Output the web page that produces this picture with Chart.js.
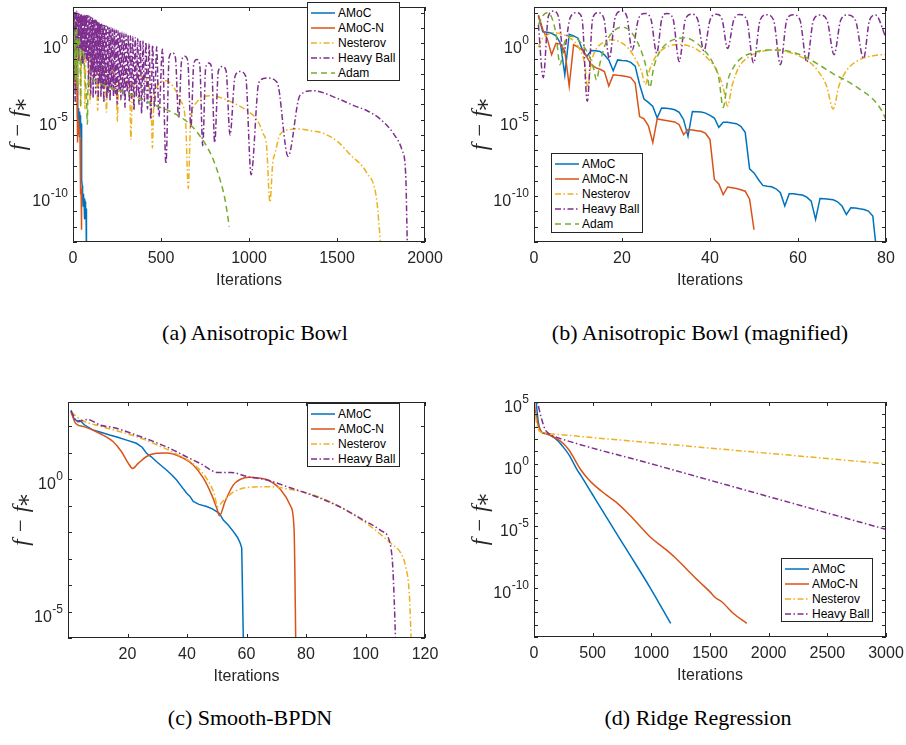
<!DOCTYPE html>
<html>
<head>
<meta charset="utf-8">
<script src="https://cdn.jsdelivr.net/npm/chart.js@4.4.1/dist/chart.umd.min.js"></script>
<style>
  body { margin: 0; background: #fff; }
  #page { position: relative; width: 906px; height: 745px; overflow: hidden; background: #fff; }
  .panel { position: absolute; width: 453px; height: 300px; }
  .cap { position: absolute; font-family: "Liberation Serif", serif; font-size: 22px; line-height: 24px;
         color: #000; transform: translateX(-50%); white-space: nowrap; }
  .legend { position: absolute; box-sizing: border-box; background: #fff; border: 1px solid #262626;
            padding: 2px 4px 0 3px; font-family: "Liberation Sans", Arial, sans-serif; font-size: 12px; color: #000; }
  .legend .row { display: flex; align-items: center; height: 15.2px; white-space: nowrap; }
  .legend svg { margin-right: 3px; flex: none; }
</style>
</head>
<body>
<div id="page">
  <canvas id="chartA" class="panel" width="453" height="300" style="left:0;top:0"></canvas>
  <canvas id="chartB" class="panel" width="453" height="300" style="left:453px;top:0"></canvas>
  <canvas id="chartC" class="panel" width="453" height="300" style="left:0;top:396px"></canvas>
  <canvas id="chartD" class="panel" width="453" height="300" style="left:453px;top:386px"></canvas>
  <div class="cap" style="left:255px;top:321px">(a) Anisotropic Bowl</div>
  <div class="cap" style="left:700px;top:321px">(b) Anisotropic Bowl (magnified)</div>
  <div class="cap" style="left:250px;top:706px">(c) Smooth-BPDN</div>
  <div class="cap" style="left:698px;top:706px">(d) Ridge Regression</div>
</div>
<script>
// values are log10(f - f*)

const methods = ["AMoC", "AMoC-N", "Nesterov", "Heavy Ball", "Adam"];
const colors = ["#0072BD", "#D95319", "#EDB120", "#7E2F8E", "#77AC30"];
const dashes = [[], [], [6, 2.5, 1.5, 2.5], [6, 2.5, 1.5, 2.5], [6, 4]];

// ---- (b) anisotropic bowl, first 80 iterations (also the start of (a)) ----
const amocLog = [1.8, 0.75, 0.72, 0.65, 0.48, 0.0, -2.07, 0.59, 0.48, 0.33,
  -0.43, -0.87, -0.48, -0.5, -0.54, -0.76, -1.09, -1.8, -1.09, -1.13,
  -1.15, -1.25, -1.5, -2.7, -3.65, -3.87, -4.13, -4.89, -4.24, -4.26,
  -4.28, -4.35, -4.52, -5.0, -6.09, -4.46, -4.48, -4.5, -4.57, -4.72,
  -4.89, -5.5, -5.17, -5.17, -5.22, -5.26, -5.43, -5.83, -8.22, -8.48,
  -8.91, -9.3, -9.35, -9.39, -9.52, -9.78, -10.65, -9.85, -9.85, -9.89,
  -9.93, -10.07, -10.33, -11.52, -10.15, -10.17, -10.2, -10.24, -10.37, -10.65,
  -11.2, -10.76, -10.78, -10.83, -10.87, -10.98, -11.3, -14];
const amocNLog = [1.85, 0.9, 0.3, -0.75, 0.0, -0.05, -0.5, -2.8, -0.1, -0.25,
  -0.45, -0.9, -1.4, -1.6, -1.7, -1.85, -2.8, -2.07, -2.1, -2.12,
  -2.18, -2.25, -2.6, -4.8, -4.95, -5.4, -6.5, -4.95, -5.0, -5.05,
  -5.1, -5.15, -5.33, -5.98, -5.65, -5.68, -5.72, -5.76, -5.9, -6.3,
  -8.91, -9.2, -9.9, -9.4, -9.45, -9.5, -9.58, -9.68, -10.2, -12.2];

const nestIterB = [1, 2, 3, 4.5, 6, 7.5, 9, 10.5, 11.5, 12.2, 13, 14, 15.5, 17.5, 19.5, 21.5, 23.2, 24.5, 25.3, 26.2,
  27.5, 29.5, 31.5, 33.5, 35.5, 37.5, 39.5, 41.5, 43, 44, 45, 46.5, 48.5, 51, 54, 57, 60, 62.5, 64.5, 66.5,
  68, 69.3, 71, 73.5, 76.5, 80];
const nestLogB = [-0.25, 0.35, 0.55, 0.7, 0.62, 0.45, 0.15, -0.45, -1.3, -2.9, -1.3, -0.45, 0.0, 0.22, 0.1, -0.35, -1.1, -1.9, -2.7, -1.8,
  -0.95, -0.35, -0.12, -0.08, -0.2, -0.5, -1.0, -1.75, -2.9, -4.1, -2.8, -1.6, -0.95, -0.6, -0.45, -0.52, -0.8, -1.2, -1.8, -2.8,
  -4.3, -2.8, -1.8, -1.15, -0.85, -0.72];

const hbIterB = [1, 2.1, 3.25, 4.4, 5.55, 6.7, 8.2, 9.7, 10.9, 12.1, 13.35, 14.6, 15.85, 17.1, 18.5, 19.9, 21.1, 22.3,
  23.75, 25.2, 26.55, 27.9, 29.05, 30.2, 31.6, 33, 34.4, 35.8, 37.2, 38.6, 40.05, 41.5, 42.75, 44, 45.4, 46.8,
  48.35, 49.9, 51.4, 52.9, 54.45, 56, 57.45, 58.9, 60.45, 62, 63.5, 65, 66.6, 68.2, 69.7, 71.2, 73.05, 74.9,
  76.25, 77.6, 80];
const hbLogB = [1.2, -2.25, 1.75, 2.1, 1.75, -0.6, 1.65, 2.0, 1.65, -3.8, 1.65, 2.0, 1.65, -1.0, 1.75, 2.1, 1.75, -0.45,
  1.6, 1.95, 1.6, -0.65, 1.6, 1.95, 1.6, -1.2, 1.55, 1.9, 1.55, -0.5, 1.55, 1.9, 1.55, -0.35, 1.53, 1.88,
  1.53, -1.3, 1.52, 1.87, 1.52, -1.4, 1.52, 1.87, 1.52, -1.25, 1.5, 1.85, 1.5, -0.75, 1.5, 1.85, 1.5, -1.0,
  1.5, 1.85, 0.35];

const adamIterB = [1, 2, 3, 4, 5, 5.9, 7, 8.3, 9.5, 11, 12.5, 13.5, 14.2, 15, 16.3, 18, 19.8, 21.5, 23, 24.5,
  25.5, 26.3, 27.2, 28.5, 30.5, 32.5, 34.5, 36.5, 38.5, 40.5, 42, 43, 44, 45.5, 47.5, 50, 53, 56, 59, 62,
  65, 68, 71, 74, 77, 79, 80];
const adamLogB = [1.2, 1.8, 2.0, 1.7, 0.6, -1.4, 0.1, 0.45, 0.35, -0.1, -0.8, -1.6, -2.4, -1.3, 0.0, 0.75, 1.05, 0.9, 0.35, -0.6,
  -1.6, -2.9, -1.6, -0.6, 0.05, 0.3, 0.35, 0.1, -0.4, -1.2, -2.3, -4.2, -2.5, -1.5, -0.9, -0.6, -0.45, -0.45, -0.6, -0.95,
  -1.45, -2.0, -2.45, -3.0, -3.65, -4.4, -5.0];

// ---- (a) continuation beyond 80 iterations ----
const nestIterTail = [84, 90, 94, 97, 100, 106, 118, 130, 136, 140, 145, 152, 165, 178, 186, 190, 195, 204, 220, 238,
  248, 252, 257, 268, 290, 312, 324, 329, 335, 350, 390, 430, 445, 451, 458, 475, 494, 530, 570, 608,
  640, 655, 668, 700, 740, 790, 850, 949, 1000, 1044, 1080, 1100, 1119, 1135, 1148, 1176, 1233, 1271, 1340, 1422,
  1500, 1574, 1669, 1725, 1750];
const nestLogTail = [-0.65, -1.4, -2.4, -3.9, -2.4, -1.5, -1.15, -1.6, -2.6, -4.4, -2.6, -1.8, -1.45, -1.9, -3.0, -4.5, -3.0, -2.1, -1.75, -2.3,
  -3.4, -5.1, -3.4, -2.4, -1.95, -2.5, -4.0, -6.3, -4.0, -2.6, -2.15, -2.8, -4.3, -6.85, -4.3, -3.0, -2.55, -2.45, -2.85, -3.7,
  -5.2, -9.5, -5.2, -3.9, -3.5, -3.43, -3.6, -4.13, -4.5, -5.0, -5.9, -6.74, -10.4, -7.8, -7.18, -5.98, -5.65, -5.6, -5.7, -5.9,
  -6.4, -7.28, -8.48, -10.2, -13.5];

// heavy ball: dense oscillation up to ~500, then wider arches
const hbIterTail = [81.5, 84.75, 88, 91.25, 94.5, 97.75, 101, 104.35, 107.7, 111.1, 114.5, 118, 121.5, 125.1, 128.7, 132.35,
  136, 139.75, 143.5, 147.35, 151.2, 155.1, 159, 163, 167, 171.15, 175.3, 179.55, 183.8, 188.15, 192.5, 197,
  201.5, 206.1, 210.7, 215.45, 220.2, 225.1, 230, 235, 240, 245.25, 250.5, 255.85, 261.2, 266.7, 272.2, 277.9,
  283.6, 289.45, 295.3, 301.35, 307.4, 313.7, 320, 326.5, 333, 339.75, 346.5, 353.5, 360.5, 367.75, 375, 382.5,
  390, 397.85, 405.7, 414.35, 423, 432.5, 442, 452.5, 463, 475.5, 488, 508,
  528, 546, 564, 582, 600, 617, 635, 652, 670, 686, 703, 720,
  737, 754, 771, 788, 805, 826, 848, 870, 892, 921, 950, 981, 1012, 1056, 1100, 1160, 1222, 1290, 1365, 1500,
  1600, 1669, 1750, 1820, 1870, 1890, 1900];
const hbLogTail = [-1.2, 1.82, -2.9, 1.77, -0.9, 1.72, -3.4, 1.68, -1.8, 1.63, -3.6, 1.58, -2.3, 1.53, -3.3, 1.48,
  -2.0, 1.42, -3.7, 1.37, -2.6, 1.31, -3.5, 1.26, -3.0, 1.2, -3.9, 1.16, -2.8, 1.12, -3.6, 1.08,
  -3.2, 1.04, -3.8, 1.0, -3.0, 0.95, -3.5, 0.91, -3.3, 0.86, -4.0, 0.81, -3.1, 0.76, -3.7, 0.71,
  -3.4, 0.66, -4.2, 0.61, -3.2, 0.55, -3.8, 0.49, -3.6, 0.43, -4.4, 0.37, -3.5, 0.3, -4.0, 0.23,
  -4.6, 0.15, -3.8, 0.07, -4.3, -0.02, -5.0, -0.12, -4.2, -0.23, -4.8, -0.39,
  -7.9, -0.95, -0.63, -0.95, -4.9, -1.15, -0.85, -1.15, -5.5, -1.37, -1.07, -1.37,
  -6.7, -1.6, -1.3, -1.6, -6.5, -1.82, -1.52, -1.82, -6.0, -2.15, -1.85, -2.15, -8.6, -2.57, -2.27, -2.57, -7.4, -3.4, -3.1, -3.6,
  -4.1, -4.4, -5.0, -5.9, -7.0, -8.5, -13.5];

const adamIterTail = [82, 84, 88, 95, 110, 150, 200, 300, 400, 456, 550, 600, 660, 700, 760, 800, 835, 865, 888];
const adamLogTail = [-5.3, -3.4, -2.5, -2.25, -2.35, -2.6, -2.85, -3.25, -3.7, -4.0, -4.45, -4.75, -5.25, -5.75, -6.75, -7.7, -8.9, -10.3, -12.0];

// ---- (c) Smooth-BPDN ----
const amocIterC = [1, 2, 3, 4, 5.6, 8.4, 11, 14, 17, 19.7, 23, 25, 26.4, 28, 29.8, 31.5, 33.1, 35, 36.5, 38,
  39.9, 41, 42.1, 44, 46.6, 48.5, 50, 51, 52.2, 54, 55.6, 57, 57.9, 58.4, 59];
const amocLogC = [2.61, 2.3, 2.2, 2.22, 2.05, 1.86, 1.78, 1.67, 1.58, 1.48, 1.36, 1.2, 0.98, 0.85, 0.66, 0.5, 0.35, 0.15, -0.03, -0.25,
  -0.53, -0.65, -0.84, -0.95, -1.03, -1.12, -1.22, -1.3, -1.54, -1.75, -1.98, -2.2, -2.42, -2.6, -6.5];
const amocNIterC = [1, 2.6, 5.6, 10.7, 15.2, 18, 20.3, 21.7, 23.6, 26.4, 29.8, 33.1, 37.6, 42.1, 45.5, 48.3, 50, 50.9, 52.8, 55.6,
  58, 60.9, 64, 67, 71.5, 74.9, 76, 76.6];
const amocNLogC = [2.55, 2.11, 1.98, 1.73, 1.42, 1.04, 0.6, 0.41, 0.6, 0.86, 0.98, 0.99, 0.86, 0.54, 0.04, -0.59, -1.09, -1.38, -0.84, -0.21,
  0.0, 0.08, 0.05, -0.02, -0.4, -1.03, -1.91, -6.5];
const nestIterC = [1, 4.3, 11, 22.2, 31.2, 36.8, 42.4, 46.9, 49.1, 50.3, 52, 55.8, 61.4, 67, 72.6, 83.9, 95.1, 101.8, 108.5, 111.9,
  113.5, 114.7, 115.5];
const nestLogC = [2.55, 2.25, 2.0, 1.64, 1.24, 0.93, 0.55, -0.02, -0.53, -1.03, -0.84, -0.47, -0.3, -0.28, -0.34, -0.65, -1.28, -1.79, -2.42, -2.8,
  -3.3, -4.3, -6.5];
const hbIterC = [1, 3.2, 6.5, 11, 15.5, 22.2, 33.4, 40.2, 44.7, 50.3, 54.7, 60.3, 67, 72.6, 83.9, 91.7, 99.6, 105.2, 108, 109.1,
  109.7, 110.2];
const hbLogC = [2.58, 2.17, 2.26, 2.04, 1.95, 1.7, 1.21, 0.83, 0.58, 0.26, 0.26, 0.1, -0.03, -0.24, -0.68, -1.06, -1.56, -1.94, -2.32, -3.2,
  -4.7, -6.5];

// ---- (d) Ridge Regression ----
const amocIterD = [1, 17, 37, 65, 100, 150, 200, 250, 300, 364, 400, 500, 662, 800, 989, 1165];
const amocLogD = [6.0, 5.1, 3.37, 2.56, 2.45, 2.25, 1.9, 1.35, 0.7, -0.42, -0.95, -2.5, -5.0, -7.1, -10.0, -12.9];
const amocNIterD = [1, 20, 40, 65, 100, 150, 200, 250, 300, 350, 400, 450, 500, 600, 700, 800, 900, 1000, 1100, 1200,
  1300, 1400, 1500, 1550, 1600, 1700, 1813];
const amocNLogD = [5.0, 3.8, 3.0, 2.58, 2.45, 2.25, 2.0, 1.65, 1.1, 0.3, -0.5, -1.1, -1.6, -2.4, -3.1, -4.0, -5.0, -6.0, -6.75, -7.55,
  -8.5, -9.45, -10.35, -10.85, -11.15, -12.1, -12.9];
const nestIterD = [1, 23, 51, 136, 500, 1000, 1500, 2000, 2500, 3000];
const nestLogD = [4.8, 3.25, 2.6, 2.43, 2.12, 1.7, 1.27, 0.85, 0.43, 0.0];
const hbIterD = [1, 28, 60, 94, 120, 150, 200, 1000, 2000, 3000];
const hbLogD = [5.6, 5.0, 3.8, 2.8, 2.5, 2.3, 2.12, 0.0, -2.65, -5.3];

// ---- ticks ----
const xTicksA = [0, 500, 1000, 1500, 2000];
const xTicksB = [0, 20, 40, 60, 80];
const xTicksC = [20, 40, 60, 80, 100, 120];
const xTicksD = [0, 500, 1000, 1500, 2000, 2500, 3000];
const yTicksAB = [1e-10, 1e-5, 1];
const yExpAB = ["-10", "-5", "0"];
const yTicksC = [1e-5, 1];
const yExpC = ["-5", "0"];
const yTicksD = [1e-10, 1e-5, 1, 1e5];
const yExpD = ["-10", "-5", "0", "5"];

const AXIS = "#262626";
const sansFont = "'Liberation Sans', Arial, sans-serif";

function pts(xs, logs) {
  return xs.map((x, i) => ({ x: x, y: Math.pow(10, logs[i]) }));
}
function byIndex(logs) {
  return logs.map((v, i) => ({ x: i + 1, y: Math.pow(10, v) }));
}
function series(k, data, smooth) {
  return {
    label: methods[k], data: data, borderColor: colors[k], borderDash: dashes[k],
    borderWidth: 1.5, pointRadius: 0, fill: false, order: 5 - k,
    cubicInterpolationMode: smooth ? "monotone" : "default", tension: 0
  };
}

// box, inward ticks and 10^n labels like the original axes
const framePlugin = {
  id: "frame",
  afterDraw(chart, args, opts) {
    const { ctx, chartArea: a, scales: { x, y } } = chart;
    ctx.save();
    ctx.strokeStyle = AXIS;
    ctx.lineWidth = 1;
    ctx.strokeRect(a.left + 0.5, a.top + 0.5, a.right - a.left - 1, a.bottom - a.top - 1);
    ctx.beginPath();
    x.ticks.forEach(t => {
      const px = Math.round(x.getPixelForValue(t.value)) + 0.5;
      ctx.moveTo(px, a.bottom); ctx.lineTo(px, a.bottom - 4);
      ctx.moveTo(px, a.top); ctx.lineTo(px, a.top + 4);
    });
    const lo = Math.ceil(Math.log10(y.min)), hi = Math.floor(Math.log10(y.max));
    for (let e = lo; e <= hi; e++) {
      const py = Math.round(y.getPixelForValue(Math.pow(10, e))) + 0.5;
      ctx.moveTo(a.left, py); ctx.lineTo(a.left + 4, py);
      ctx.moveTo(a.right, py); ctx.lineTo(a.right - 4, py);
    }
    ctx.stroke();
    // y tick labels: "10" with a raised exponent
    ctx.fillStyle = AXIS;
    ctx.textAlign = "right";
    ctx.textBaseline = "alphabetic";
    opts.ticks.forEach((v, i) => {
      const py = y.getPixelForValue(v);
      const right = a.left - 5;
      ctx.font = "12px " + sansFont;
      const w = ctx.measureText(opts.exps[i]).width;
      ctx.fillText(opts.exps[i], right, py + 1);
      ctx.font = "16px " + sansFont;
      ctx.fillText("10", right - w - 0.5, py + 10);
    });
    ctx.restore();
  }
};

function makeChart(id, p) {
  const xLabels = p.xTicks.map(String);
  return new Chart(document.getElementById(id), {
    type: "line",
    data: { datasets: p.datasets },
    options: {
      responsive: false, animation: false, devicePixelRatio: 1,
      layout: { padding: { left: p.padL, right: 453 - p.right, top: p.top, bottom: 0 } },
      plugins: { legend: { display: false }, tooltip: { enabled: false },
                 frame: { ticks: p.yTicks, exps: p.yExps } },
      scales: {
        x: {
          type: "linear", min: p.xMin, max: p.xMax,
          afterBuildTicks: s => { s.ticks = p.xTicks.map(v => ({ value: v })); },
          afterFit: s => { s.height = 300 - p.bottom; s.paddingLeft = 0; s.paddingRight = 0; },
          grid: { display: false, drawTicks: false }, border: { display: false },
          ticks: { autoSkip: false, maxRotation: 0, padding: 7, color: AXIS,
                   font: { family: sansFont, size: 16 }, callback: (v, i) => xLabels[i] },
          title: { display: true, text: "Iterations", color: AXIS, font: { family: sansFont, size: 16 },
                   padding: { top: 0, bottom: 252 - p.bottom } }
        },
        y: {
          type: "logarithmic", min: p.yMin, max: p.yMax,
          afterBuildTicks: s => { s.ticks = p.yTicks.map(v => ({ value: v })); },
          afterFit: s => { s.width = p.left - p.padL; s.paddingTop = 0; s.paddingBottom = 0; },
          grid: { display: false, drawTicks: false }, border: { display: false },
          ticks: { display: false },
          title: { display: true, text: "f \u2212 f\u204E", color: AXIS,
                   font: { family: "'Liberation Serif', 'DejaVu Serif', serif", size: 23, style: "italic" },
                   padding: { top: 0, bottom: 0 } }
        }
      }
    },
    plugins: [framePlugin]
  });
}

function makeLegend(box, datasets) {
  const el = document.createElement("div");
  el.className = "legend";
  Object.assign(el.style, { left: box.left + "px", top: box.top + "px", width: box.width + "px", height: box.height + "px" });
  datasets.forEach(ds => {
    const row = document.createElement("div");
    row.className = "row";
    row.innerHTML = '<svg width="24" height="10"><line x1="0" y1="5" x2="24" y2="5" stroke="' + ds.borderColor +
      '" stroke-width="1.5" stroke-dasharray="' + ds.borderDash.join(" ") + '"/></svg><span>' + ds.label + "</span>";
    el.appendChild(row);
  });
  document.getElementById("page").appendChild(el);
}

const dsA = [
  series(0, byIndex(amocLog), false),
  series(1, byIndex(amocNLog), false),
  series(2, pts(nestIterB.concat(nestIterTail), nestLogB.concat(nestLogTail)), true),
  series(3, pts(hbIterB.concat(hbIterTail), hbLogB.concat(hbLogTail)), true),
  series(4, pts(adamIterB.concat(adamIterTail), adamLogB.concat(adamLogTail)), true)
];
const dsB = [
  series(0, byIndex(amocLog), false),
  series(1, byIndex(amocNLog), false),
  series(2, pts(nestIterB, nestLogB), true),
  series(3, pts(hbIterB, hbLogB), true),
  series(4, pts(adamIterB, adamLogB), true)
];
const dsC = [
  series(0, pts(amocIterC, amocLogC), false),
  series(1, pts(amocNIterC, amocNLogC), true),
  series(2, pts(nestIterC, nestLogC), true),
  series(3, pts(hbIterC, hbLogC), true)
];
const dsD = [
  series(0, pts(amocIterD, amocLogD), true),
  series(1, pts(amocNIterD, amocNLogD), true),
  series(2, pts(nestIterD, nestLogD), true),
  series(3, pts(hbIterD, hbLogD), true)
];

makeChart("chartA", { datasets: dsA, padL: 5, left: 73, right: 425, top: 7, bottom: 242,
  xMin: 0, xMax: 2000, xTicks: xTicksA, yMin: 1e-13, yMax: 234, yTicks: yTicksAB, yExps: yExpAB });
makeChart("chartB", { datasets: dsB, padL: 14, left: 81, right: 433, top: 7, bottom: 242,
  xMin: 0, xMax: 80, xTicks: xTicksB, yMin: 1e-13, yMax: 234, yTicks: yTicksAB, yExps: yExpAB });
makeChart("chartC", { datasets: dsC, padL: 8, left: 68, right: 425, top: 6, bottom: 242,
  xMin: 0, xMax: 120, xTicks: xTicksC, yMin: 1e-6, yMax: 832, yTicks: yTicksC, yExps: yExpC });
makeChart("chartD", { datasets: dsD, padL: 14, left: 81, right: 433, top: 16, bottom: 251,
  xMin: 0, xMax: 3000, xTicks: xTicksD, yMin: 1e-14, yMax: 1e5, yTicks: yTicksD, yExps: yExpD });

makeLegend({ left: 307, top: 2, width: 93, height: 79 }, dsA);
makeLegend({ left: 551, top: 153, width: 92, height: 80 }, dsB);
makeLegend({ left: 307, top: 403, width: 93, height: 64 }, dsC);
makeLegend({ left: 781, top: 558, width: 92, height: 64 }, dsD);
</script>
</body>
</html>
